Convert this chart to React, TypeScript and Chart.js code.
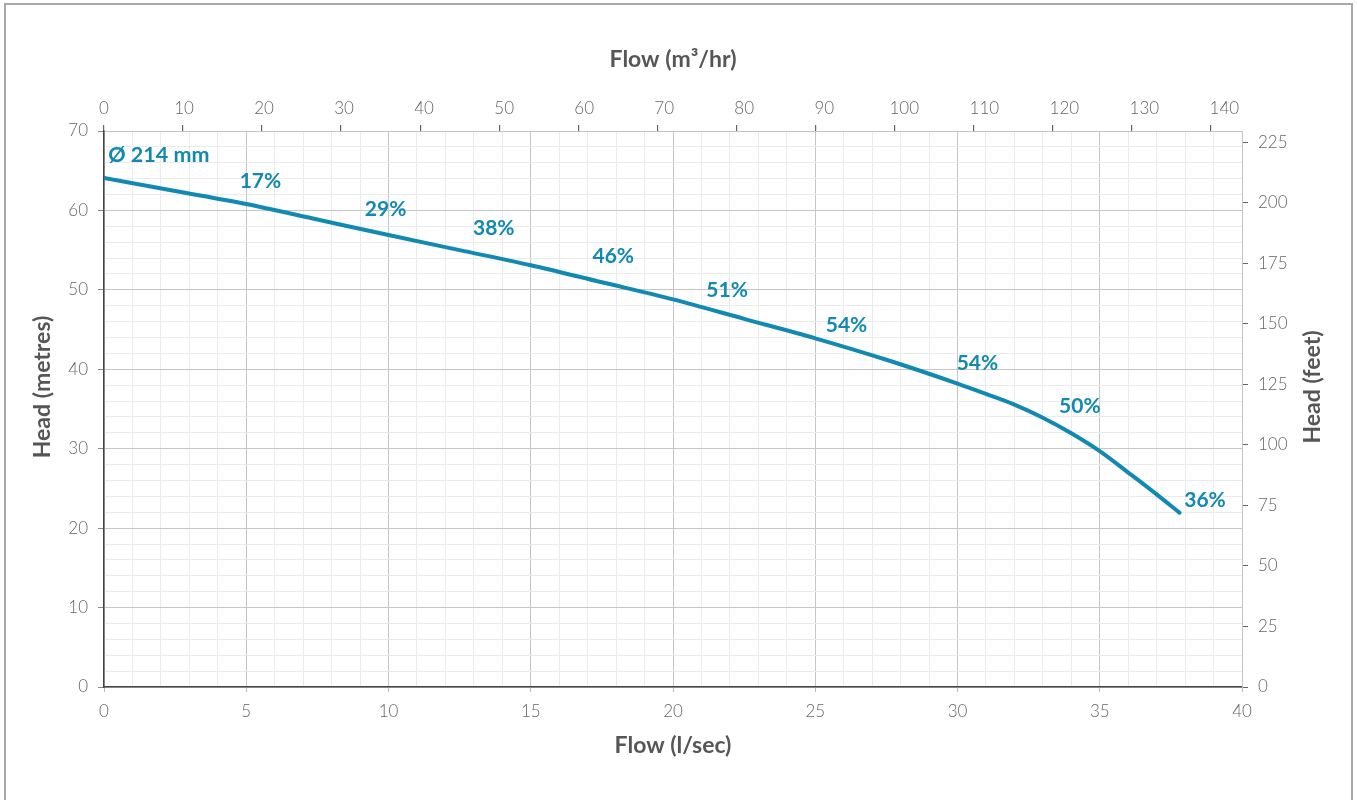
import React, { useEffect, useRef } from 'react';
import { Chart, registerables } from 'chart.js';

Chart.register(...registerables);

// ---- Data ----
// Pump curve: flow in l/sec against head in metres
const flowLps = [0, 2.5, 5, 7.5, 10, 12.5, 15, 17.5, 20, 22.5, 25, 27.5, 30, 31, 32, 33, 34, 35, 36, 37, 37.8];
const headMetres = [64.1, 62.45, 60.8, 58.85, 56.9, 55.0, 53.1, 50.95, 48.8, 46.35, 43.9, 41.2, 38.2, 36.9, 35.55, 33.9, 31.95, 29.7, 27.0, 24.25, 21.95];

// Efficiency labels along the curve
const effLabels = ['17%', '29%', '38%', '46%', '51%', '54%', '54%', '50%', '36%'];
const effFlow = [5.5, 9.9, 13.7, 17.9, 21.9, 26.1, 30.7, 34.3, 38.7];
const effHead = [63.7, 60.1, 57.7, 54.2, 49.9, 45.6, 40.7, 35.3, 23.5];

// Impeller diameter label
const impellerLabel = 'Ø 214 mm';
const impellerFlow = 0.15;
const impellerHead = 67.0;

// Axis titles and ranges
const xTitle = 'Flow (l/sec)';
const xTopTitle = 'Flow (m³/hr)';
const yTitle = 'Head (metres)';
const yRightTitle = 'Head (feet)';
const flowMax = 40;
const headMax = 70;
const m3hPerLps = 3.6;
const feetPerMetre = 3.28084;
const topLabelMax = 142.2;

// ---- Styles ----
const TEAL = '#1189b1';
const TICK_COLOR = '#666666';
const TITLE_COLOR = '#565656';
const MAJOR = '#c6c6c6';
const MINOR = '#ebebeb';
const FONT = 'Lato, "Open Sans", sans-serif';
const TRANSPARENT = 'rgba(0,0,0,0)';

const tickFont = { family: FONT, size: 17, weight: 300 as any };
const titleFont = { family: FONT, size: 23, weight: 'bold' as any };

const annotationPlugin = {
  id: 'pumpAnnotations',
  afterDatasetsDraw(chart: any) {
    const { ctx, chartArea } = chart;
    const x = chart.scales.x;
    const y = chart.scales.y;
    ctx.save();
    ctx.fillStyle = TEAL;
    ctx.font = `bold 21px ${FONT}`;
    ctx.textBaseline = 'middle';
    ctx.textAlign = 'center';
    effLabels.forEach((t, i) => {
      ctx.fillText(t, x.getPixelForValue(effFlow[i]), y.getPixelForValue(effHead[i]));
    });
    ctx.textAlign = 'left';
    ctx.font = `bold 21.5px ${FONT}`;
    ctx.fillText(impellerLabel, x.getPixelForValue(impellerFlow), y.getPixelForValue(impellerHead));

    // vertical axis titles (both read bottom-to-top)
    ctx.fillStyle = TITLE_COLOR;
    ctx.font = `bold 23px ${FONT}`;
    ctx.textAlign = 'center';
    const cy = chartArea.top + 256;
    ctx.save();
    ctx.translate(chartArea.left - 61, cy);
    ctx.rotate(-Math.PI / 2);
    ctx.fillText(yTitle, 0, 0);
    ctx.restore();
    ctx.save();
    ctx.translate(chartArea.right + 71, cy);
    ctx.rotate(-Math.PI / 2);
    ctx.fillText(yRightTitle, 0, 0);
    ctx.restore();
    ctx.restore();
  },
};

export default function App() {
  const canvasRef = useRef<HTMLCanvasElement | null>(null);

  useEffect(() => {
    const canvas = canvasRef.current;
    if (!canvas) return;
    const chart = new Chart(canvas, {
      type: 'line',
      data: {
        datasets: [
          {
            label: 'Head',
            data: flowLps.map((f, i) => ({ x: f, y: headMetres[i] })),
            borderColor: TEAL,
            backgroundColor: TEAL,
            borderWidth: 4,
            pointRadius: 0,
            borderCapStyle: 'round',
            cubicInterpolationMode: 'monotone',
            fill: false,
          },
        ],
      },
      options: {
        responsive: false,
        animation: false,
        devicePixelRatio: 1,
        layout: { padding: 0 },
        plugins: {
          legend: { display: false },
          tooltip: { enabled: false },
          title: { display: false },
        },
        scales: {
          x: {
            type: 'linear',
            position: 'bottom',
            min: 0,
            max: flowMax,
            bounds: 'data',
            ticks: {
              stepSize: 1,
              autoSkip: false,
              includeBounds: false,
              maxRotation: 0,
              color: TICK_COLOR,
              font: tickFont,
              padding: 9,
              callback: (v: any) => (Number(v) % 5 === 0 ? String(v) : ''),
            },
            grid: {
              color: (c: any) => (c.tick && c.tick.value % 5 === 0 ? MAJOR : MINOR),
              tickColor: (c: any) => (c.tick && c.tick.value % 5 === 0 ? '#bdbdbd' : TRANSPARENT),
              tickLength: 5,
              lineWidth: 1,
            },
            border: { display: true, color: '#454545', width: 1.5 },
            title: {
              display: true,
              text: xTitle,
              color: TITLE_COLOR,
              font: titleFont,
              padding: { top: 0, bottom: 41 },
            },
            afterFit: (s: any) => { s.height = 113; },
          },
          xTopLabels: {
            type: 'linear',
            position: 'top',
            weight: 10,
            min: 0,
            max: topLabelMax,
            bounds: 'data',
            ticks: {
              stepSize: 10,
              autoSkip: false,
              includeBounds: false,
              maxRotation: 0,
              color: TICK_COLOR,
              font: tickFont,
              padding: 6,
            },
            grid: { drawOnChartArea: false, tickLength: 6, tickColor: TRANSPARENT },
            border: { display: false },
            title: {
              display: true,
              text: xTopTitle,
              color: TITLE_COLOR,
              font: titleFont,
              padding: { top: 46, bottom: 0 },
            },
            afterFit: (s: any) => { s.height = 131; },
          },
          xTopMarks: {
            type: 'linear',
            position: 'top',
            weight: 0,
            min: 0,
            max: flowMax * m3hPerLps,
            bounds: 'data',
            ticks: { display: false, stepSize: 10, includeBounds: false, autoSkip: false },
            grid: {
              drawOnChartArea: false,
              tickLength: 6,
              tickColor: (c: any) => (c.tick && c.tick.value % 10 === 0 ? '#666' : TRANSPARENT),
              lineWidth: 1.2,
            },
            border: { display: true, color: '#c4c4c4', width: 1 },
            afterFit: (s: any) => { s.height = 0; },
          },
          y: {
            type: 'linear',
            position: 'left',
            min: 0,
            max: headMax,
            bounds: 'data',
            ticks: {
              stepSize: 2,
              autoSkip: false,
              includeBounds: false,
              color: TICK_COLOR,
              font: tickFont,
              padding: 10,
              callback: (v: any) => (Number(v) % 10 === 0 ? String(v) : ''),
            },
            grid: {
              color: (c: any) => (c.tick && c.tick.value % 10 === 0 ? MAJOR : MINOR),
              tickColor: (c: any) => (c.tick && c.tick.value % 10 === 0 ? '#8a8a8a' : TRANSPARENT),
              tickLength: 6,
              lineWidth: 1,
            },
            border: { display: true, color: '#454545', width: 1.5 },
            afterFit: (s: any) => { s.width = 104; },
          },
          yFeet: {
            type: 'linear',
            position: 'right',
            min: 0,
            max: headMax * feetPerMetre,
            bounds: 'data',
            ticks: {
              stepSize: 25,
              autoSkip: false,
              includeBounds: false,
              color: TICK_COLOR,
              font: tickFont,
              padding: 10,
            },
            grid: { drawOnChartArea: false, tickLength: 6, tickColor: '#666' },
            border: { display: true, color: '#c4c4c4', width: 1 },
            afterFit: (s: any) => { s.width = 115; },
          },
        },
      } as any,
      plugins: [annotationPlugin],
    });
    return () => chart.destroy();
  }, []);

  return (
    <div style={{ position: 'fixed', left: 0, top: 0, width: 1357, height: 800, overflow: 'hidden', background: '#fff' }}>
      <div
        style={{
          position: 'absolute',
          left: 4,
          top: 3,
          width: 1349,
          height: 860,
          boxSizing: 'border-box',
          border: '2px solid #a8a8a8',
        }}
      />
      <canvas
        ref={canvasRef}
        width={1357}
        height={800}
        style={{ position: 'absolute', left: 0, top: 0, width: 1357, height: 800 }}
      />
    </div>
  );
}
